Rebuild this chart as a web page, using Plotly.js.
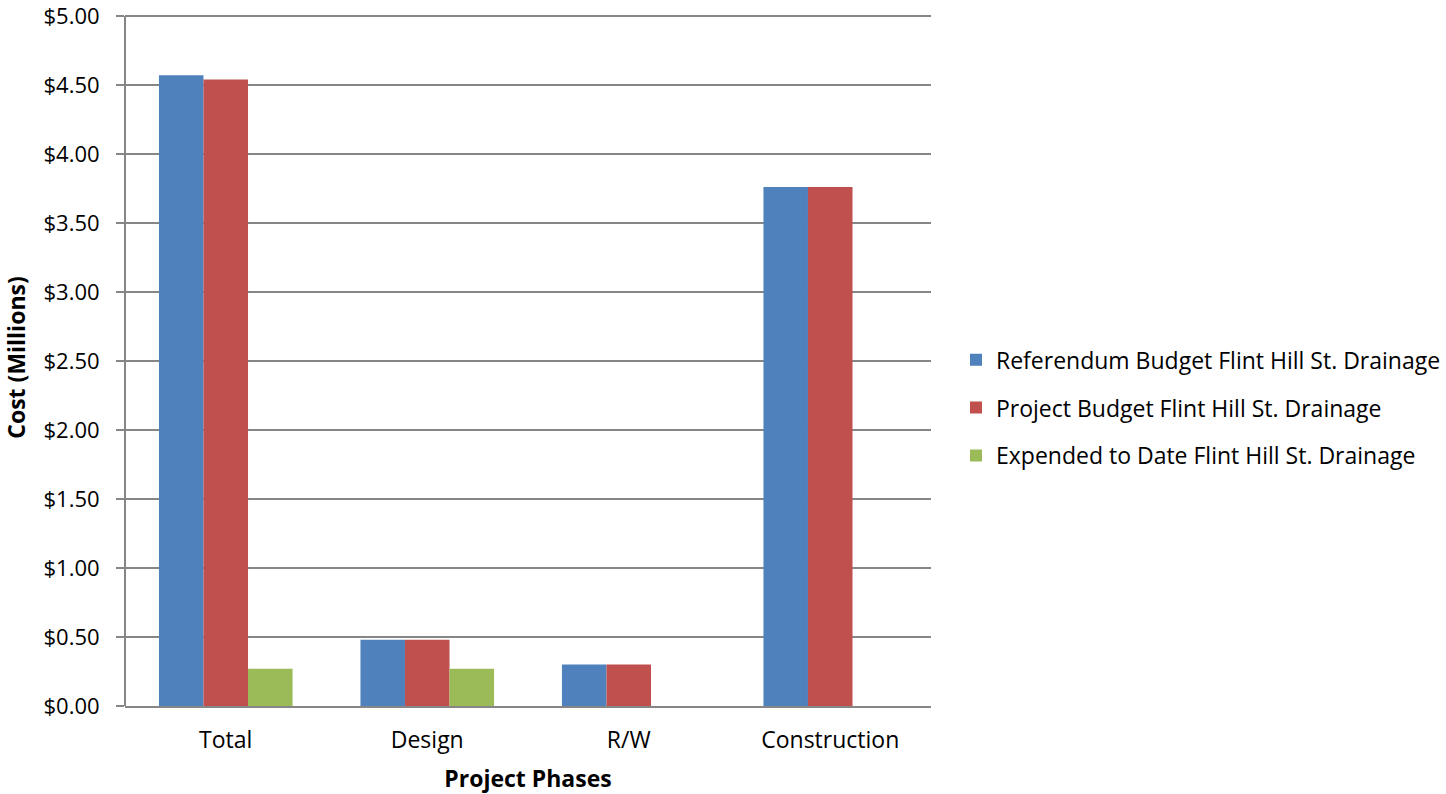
<!DOCTYPE html>
<html>
<head>
<meta charset="utf-8">
<script src="https://cdn.plot.ly/plotly-3.0.1.min.js"></script>
<style>html,body{margin:0;padding:0;background:#fff;}#chart{width:1446px;height:794px;}</style>
</head>
<body>
<div id="chart"></div>
<script>
const categories = ["Total", "Design", "R/W", "Construction"];
const seriesNames = [
  "Referendum Budget Flint Hill St. Drainage",
  "Project Budget Flint Hill St. Drainage",
  "Expended to Date Flint Hill St. Drainage"
];
const referendumBudget = [4.57, 0.48, 0.30, 3.76];
const projectBudget = [4.54, 0.48, 0.30, 3.76];
const expendedToDate = [0.27, 0.27, 0, 0];
const colors = ["#4F81BD", "#C0504D", "#9BBB59"];
const yMax = 5;

const FONT = "Open Sans, Noto Sans, sans-serif";
const FS = 23;
const allSeries = [referendumBudget, projectBudget, expendedToDate];
const traces = allSeries.map((vals, i) => ({
  type: "bar",
  name: seriesNames[i],
  x: categories,
  y: vals,
  legendgroup: "g" + i,
  marker: { color: colors[i], line: { width: 0 } },
  hoverinfo: "x+y+name"
}));

const layout = {
  width: 1446,
  height: 794,
  margin: { l: 125, r: 515, t: 9, b: 88, autoexpand: false },
  paper_bgcolor: "#ffffff",
  plot_bgcolor: "#ffffff",
  font: { family: FONT, size: FS, color: "#000000" },
  barmode: "group",
  bargap: 0.337,
  bargroupgap: 0,
  showlegend: true,
  legend: {
    x: 1.031, xanchor: "left",
    y: 0.428, yanchor: "middle",
    traceorder: "grouped",
    tracegroupgap: 15,
    font: { family: FONT, size: FS, color: "#000000" },
    itemwidth: 30
  },
  xaxis: {
    type: "category",
    showgrid: false,
    showline: true,
    linecolor: "#868686",
    linewidth: 2,
    ticks: "",
    ticklabelstandoff: 12,
    tickfont: { family: FONT, size: FS },
    title: { text: "Project Phases", font: { family: FONT, size: FS, weight: "bold" }, standoff: 19 }
  },
  yaxis: {
    range: [0, 5.05],
    tickmode: "linear",
    tick0: 0,
    dtick: 0.5,
    tickprefix: "$",
    tickformat: ".2f",
    showgrid: true,
    gridcolor: "#868686",
    gridwidth: 2,
    zeroline: false,
    showline: false,
    ticks: "outside",
    ticklen: 8,
    tickwidth: 2,
    tickcolor: "#868686",
    ticklabelstandoff: 12,
    ticklabeloverflow: "allow",
    tickfont: { family: FONT, size: 22 },
    title: { text: "Cost (Millions)", font: { family: FONT, size: FS, weight: "bold" }, standoff: 12 }
  },
  shapes: [{
    type: "line", xref: "paper", yref: "y",
    x0: 0, x1: 0, y0: 0, y1: yMax,
    line: { color: "#868686", width: 2 }, layer: "above"
  }]
};

Plotly.newPlot("chart", traces, layout, { displayModeBar: false, staticPlot: true });
</script>
</body>
</html>
